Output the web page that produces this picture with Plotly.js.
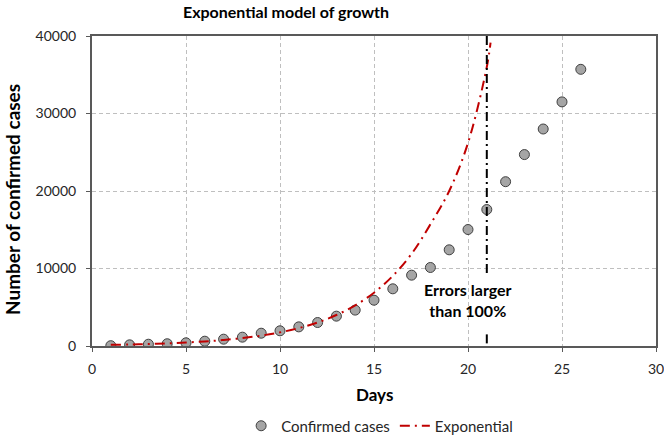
<!DOCTYPE html>
<html>
<head>
<meta charset="utf-8">
<script src="https://cdn.plot.ly/plotly-3.0.1.min.js"></script>
<style>html,body{margin:0;padding:0;background:#fff;}#chart{width:664px;height:440px;}</style>
</head>
<body>
<div id="chart"></div>
<script>
// Confirmed cases per day
var days = [1,2,3,4,5,6,7,8,9,10,11,12,13,14,15,16,17,18,19,20,21,22,23,24,25,26];
var confirmed = [40,150,230,290,410,620,880,1140,1650,1960,2470,3030,3850,4630,5910,7380,9140,10130,12410,15030,17610,21200,24700,28000,31500,35700];

// Exponential model curve
var modelDays = [1,2,3,4,5,6,7,8,9,10,11,12,13,14,15,16,17,18,19,20,21,21.2];
var modelCases = [150,200,260,340,450,590,770,1020,1340,1760,2310,3030,4000,5240,6880,9050,11900,15700,20000,26200,36000,39150];

// Vertical marker at day 21 (broken around the note)
var markerX = [21,21,null,21,21];
var markerY = [40000,9100,null,1500,0];

var xTicks = [0,5,10,15,20,25,30];
var yTicks = [0,10000,20000,30000,40000];

var font = 'Lato, "Open Sans", sans-serif';

var traces = [
  {
    x: days, y: confirmed, type: 'scatter', mode: 'markers', name: 'Confirmed cases',
    marker: {size: 10, color: '#A5A5A5', line: {color: '#404040', width: 1}}
  },
  {
    x: modelDays, y: modelCases, type: 'scatter', mode: 'lines', name: 'Exponential',
    line: {color: '#C00000', width: 2, dash: '10px,5px,2px,5px', shape: 'spline'}
  },
  {
    x: markerX, y: markerY, type: 'scatter', mode: 'lines', showlegend: false, hoverinfo: 'skip',
    line: {color: '#000000', width: 2, dash: '9px,4px,2px,4px'}
  }
];

var layout = {
  width: 664, height: 440,
  margin: {l: 92, r: 8, t: 36, b: 94, autoexpand: false},
  paper_bgcolor: '#ffffff', plot_bgcolor: '#ffffff',
  font: {family: font, color: '#262626', size: 14},
  title: {
    text: '<b>Exponential model of growth</b>',
    font: {family: font, size: 16, color: '#000000'},
    x: 286/664, xref: 'container', xanchor: 'center',
    y: 1 - 12/440, yref: 'container', yanchor: 'middle'
  },
  xaxis: {
    range: [0, 30], tickvals: xTicks, ticktext: xTicks.map(String),
    showgrid: true, gridcolor: '#BFBFBF', griddash: '4px,3px', gridwidth: 1,
    showline: true, linecolor: '#595959', linewidth: 2, mirror: true,
    ticks: 'outside', ticklen: 4, tickcolor: '#595959',
    ticklabelstandoff: 5, ticklabeloverflow: 'allow',
    zeroline: false, automargin: false,
    tickfont: {family: font, size: 14, color: '#262626'}
  },
  yaxis: {
    range: [0, 40000], tickvals: yTicks, ticktext: yTicks.map(String),
    showgrid: true, gridcolor: '#BFBFBF', griddash: '4px,3px', gridwidth: 1,
    showline: true, linecolor: '#595959', linewidth: 2, mirror: true,
    ticks: 'outside', ticklen: 4, tickcolor: '#595959',
    ticklabelstandoff: 7, ticklabeloverflow: 'allow',
    zeroline: false, automargin: false,
    tickfont: {family: font, size: 14, color: '#262626'}
  },
  legend: {
    orientation: 'h', x: 0.51, xanchor: 'center',
    xref: 'paper', yref: 'container', y: 14/440, yanchor: 'middle',
    font: {family: font, size: 15, color: '#262626'},
    tracegroupgap: 0, bgcolor: 'rgba(255,255,255,0)'
  },
  annotations: [
    {
      x: 20, y: 5900, xref: 'x', yref: 'y',
      text: '<b>Errors larger<br>than 100%</b>', showarrow: false,
      font: {family: font, size: 16, color: '#000000'}, align: 'center'
    },
    {
      x: 0.5, y: -0.155, xref: 'paper', yref: 'paper', xanchor: 'center', yanchor: 'middle',
      text: '<b>Days</b>', showarrow: false,
      font: {family: font, size: 17, color: '#000000'}
    },
    {
      x: 0, y: 0.5, xref: 'paper', yref: 'paper', xanchor: 'center', yanchor: 'middle',
      xshift: -80, yshift: -9, textangle: -90,
      text: '<b>Number of confirmed cases</b>', showarrow: false,
      font: {family: font, size: 19, color: '#000000'}
    }
  ],
  showlegend: true
};

Plotly.newPlot('chart', traces, layout, {displayModeBar: false, staticPlot: true});
</script>
</body>
</html>
